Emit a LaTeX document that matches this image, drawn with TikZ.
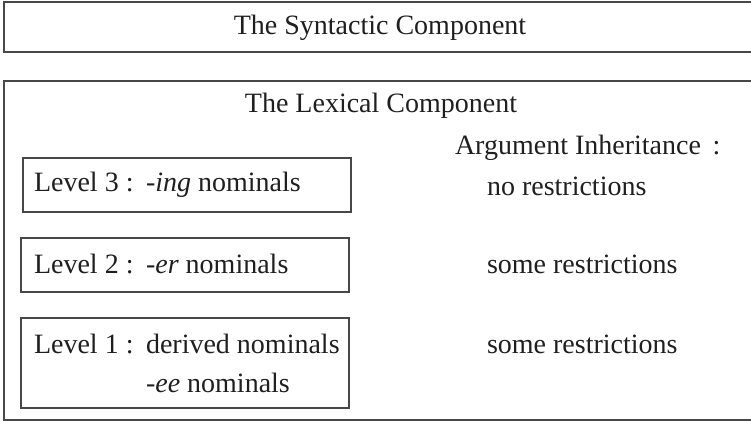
\documentclass[tikz,border=0pt]{standalone}
\usepackage{fontspec}
\setmainfont{Liberation Serif}
\begin{document}
\begin{tikzpicture}[x=1pt,y=-1pt,
  frame/.style={draw=black!72,line width=1.3pt,inner sep=0pt,outer sep=0pt,
    anchor=north west},
  txt/.style={inner sep=0pt,outer sep=0pt,text=black!88,
    font=\fontsize{28}{33}\selectfont},
  lefttxt/.style={txt,anchor=base west},
  midtxt/.style={txt,anchor=base}]
\useasboundingbox (0,0) rectangle (751,422);
\clip (0,0) rectangle (751,422);

% outer component frames (they run past the right edge)
\node[frame,minimum width=780pt,minimum height=50pt] (syn) at (4,2) {};
\node[frame,minimum width=780pt,minimum height=339pt] (lex) at (4,81) {};

% level frames
\node[frame,minimum width=328pt,minimum height=54pt] (b3) at (23,158) {};
\node[frame,minimum width=328pt,minimum height=54pt] (b2) at (21,238) {};
\node[frame,minimum width=328pt,minimum height=90pt] (b1) at (21,318) {};

% headings
\node[midtxt] (syntitle) at (380,35) {The Syntactic Component};
\node[midtxt] (lextitle) at (381,113) {The Lexical Component};
\node[lefttxt] (arg) at (455,155) {Argument Inheritance \,:};

% level labels
\node[lefttxt] (l3) at (34,191) {Level 3 :};
\node[lefttxt] (n3) at (146,191) {\textit{-ing} nominals};
\node[lefttxt] (l2) at (34,273) {Level 2 :};
\node[lefttxt] (n2) at (146,273) {\textit{-er} nominals};
\node[lefttxt] (l1) at (34,353) {Level 1 :};
\node[lefttxt] (n1a) at (146,353) {derived nominals};
\node[lefttxt] (n1b) at (146,392) {\textit{-ee} nominals};

% inheritance column
\node[lefttxt] (r3) at (487,195) {no restrictions};
\node[lefttxt] (r2) at (487,273) {some restrictions};
\node[lefttxt] (r1) at (487,353) {some restrictions};
\end{tikzpicture}
\end{document}
